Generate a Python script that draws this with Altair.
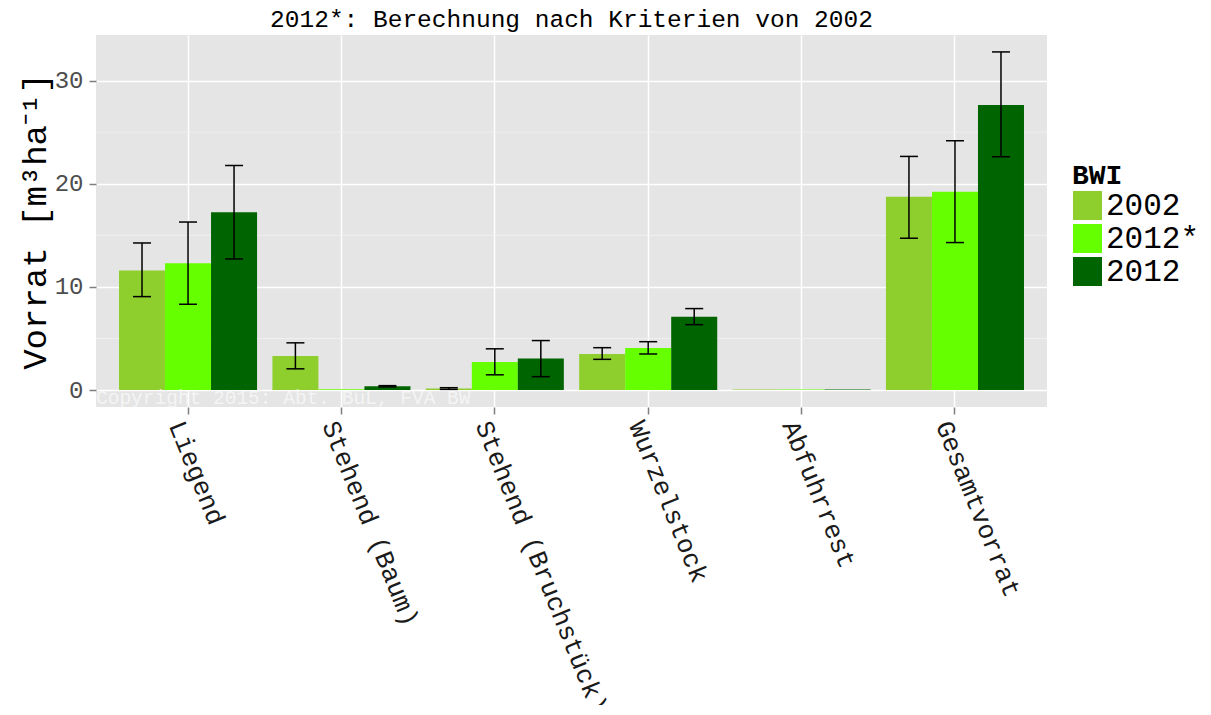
import altair as alt
import pandas as pd

categories = ["Liegend", "Stehend (Baum)", "Stehend (Bruchstück)", "Wurzelstock", "Abfuhrrest", "Gesamtvorrat"]
bwi_levels = ["2002", "2012*", "2012"]
bwi_colors = ["#8ECE2D", "#66FF00", "#006400"]

v2002 = [11.6, 3.3, 0.15, 3.5, 0.05, 18.75]
v2012s = [12.3, 0.08, 2.72, 4.08, 0.05, 19.22]
v2012 = [17.23, 0.37, 3.05, 7.1, 0.06, 27.64]

lo2002 = [9.06, 2.06, 0.07, 2.98, None, 14.72]
hi2002 = [14.26, 4.58, 0.23, 4.11, None, 22.65]
lo2012s = [8.32, None, 1.48, 3.5, None, 14.3]
hi2012s = [16.29, None, 4.0, 4.69, None, 24.17]
lo2012 = [12.71, 0.31, 1.3, 6.34, None, 22.62]
hi2012 = [21.77, 0.43, 4.8, 7.9, None, 32.78]

y_ticks = [0, 10, 20, 30]
y_minor = [5, 15, 25]
y_domain = [-1.64, 34.42]

title_text = "2012*: Berechnung nach Kriterien von 2002"
copyright_text = "Copyright 2015: Abt. BuL, FVA BW"

rows = []
for b, vals, los, his in [("2002", v2002, lo2002, hi2002),
                          ("2012*", v2012s, lo2012s, hi2012s),
                          ("2012", v2012, lo2012, hi2012)]:
    for c, v, lo, hi in zip(categories, vals, los, his):
        rows.append({"cat": c, "BWI": b, "value": v, "lo": lo, "hi": hi})
df = pd.DataFrame(rows)
err_df = df.dropna(subset=["lo", "hi"])

FONT = "Liberation Mono"
W, H = 951, 372

x_enc = alt.X("cat:N", sort=categories,
              scale=alt.Scale(domain=categories, paddingInner=0.1, paddingOuter=0.15),
              axis=alt.Axis(title=None, labelAngle=68, labelAlign="left", labelBaseline="top",
                            labelFontSize=26, labelColor="#1A1A1A", labelFont=FONT,
                            labelLimit=500, labelOverlap=False, labelPadding=3,
                            tickColor="#7F7F7F", tickSize=7, tickWidth=1.5,
                            domain=False, grid=True, gridColor="white", gridWidth=1.5,
                            bandPosition=0.5))
xo_enc = alt.XOffset("BWI:N", sort=bwi_levels,
                     scale=alt.Scale(domain=bwi_levels, paddingInner=0, paddingOuter=0))
y_scale = alt.Scale(domain=y_domain, nice=False, zero=False)
y_axis = alt.Axis(title="Vorrat [m³ha⁻¹]", values=y_ticks, labelFontSize=24, labelColor="#4D4D4D",
                  labelFont=FONT, labelPadding=6, tickColor="#7F7F7F", tickSize=7, tickWidth=1.5,
                  domain=False, grid=True, gridColor="white", gridWidth=1.5,
                  titleFont=FONT, titleFontSize=34, titleFontWeight="normal", titleColor="black",
                  titlePadding=2)

minor = alt.Chart(pd.DataFrame({"m": y_minor})).mark_rule(color="#F2F2F2", strokeWidth=0.8).encode(
    y=alt.Y("m:Q", scale=y_scale, axis=y_axis)
)

bars = alt.Chart(df).mark_bar().encode(
    x=x_enc,
    xOffset=xo_enc,
    y=alt.Y("value:Q", scale=y_scale, axis=y_axis),
    y2=alt.datum(0),
    color=alt.Color("BWI:N", sort=bwi_levels,
                    scale=alt.Scale(domain=bwi_levels, range=bwi_colors),
                    legend=alt.Legend(title="BWI", orient="none", legendX=976, legendY=127,
                                      titleFont=FONT, titleFontSize=28, titleFontWeight="bold",
                                      titleColor="black", titlePadding=0,
                                      labelFont=FONT, labelFontSize=31, labelColor="black",
                                      labelOffset=3, symbolType="square", symbolSize=900,
                                      symbolStrokeColor="white", symbolStrokeWidth=1,
                                      symbolOpacity=1, rowPadding=-8, labelLimit=300)),
)

err_rule = alt.Chart(err_df).mark_rule(color="black", strokeWidth=1.5).encode(
    x=x_enc, xOffset=xo_enc,
    y=alt.Y("lo:Q", scale=y_scale, axis=y_axis), y2="hi:Q",
)
cap_lo = alt.Chart(err_df).mark_tick(color="black", thickness=1.5, size=18, opacity=1).encode(
    x=x_enc, xOffset=xo_enc, y=alt.Y("lo:Q", scale=y_scale, axis=y_axis),
)
cap_hi = alt.Chart(err_df).mark_tick(color="black", thickness=1.5, size=18, opacity=1).encode(
    x=x_enc, xOffset=xo_enc, y=alt.Y("hi:Q", scale=y_scale, axis=y_axis),
)

copyright = alt.Chart(pd.DataFrame({"t": [copyright_text]})).mark_text(
    align="left", baseline="alphabetic", font=FONT, fontSize=19.5, color="white",
    opacity=0.6, clip=True
).encode(text="t:N", x=alt.value(0), y=alt.value(H - 3))

chart = alt.layer(minor, bars, err_rule, cap_lo, cap_hi, copyright).properties(
    width=W, height=H,
    title=alt.TitleParams(title_text, font=FONT, fontSize=24.5, fontWeight="normal",
                          color="black", anchor="middle", offset=3),
    padding={"left": 88, "top": 27, "right": 155, "bottom": 298},
    autosize=alt.AutoSizeParams(type="none"),
).configure_view(fill="#E5E5E5", strokeWidth=0)

chart.save("out.html", embed_options={"renderer": "svg", "actions": False})
